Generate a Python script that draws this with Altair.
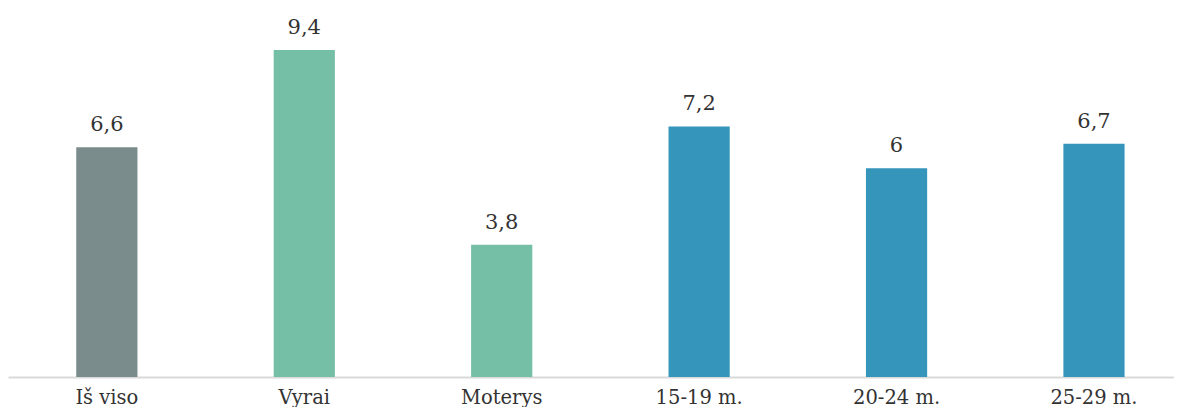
import altair as alt
import pandas as pd

categories = ["Iš viso", "Vyrai", "Moterys", "15-19 m.", "20-24 m.", "25-29 m."]
values = [6.6, 9.4, 3.8, 7.2, 6.0, 6.7]
groups = ["total", "sex", "sex", "age", "age", "age"]

df = pd.DataFrame({"cat": categories, "value": values, "group": groups})

FONT = "DejaVu Serif"

x = alt.X("cat:N", sort=categories, title=None,
          scale=alt.Scale(paddingInner=0.69, paddingOuter=0.298, align=0.58),
          axis=alt.Axis(labelAngle=0, labelFont=FONT, labelFontSize=19.5, labelColor="#333333",
                        labelPadding=11, ticks=False, domainColor="#d9d9d9", domainWidth=2,
                        grid=False))
y = alt.Y("value:Q", scale=alt.Scale(domain=[0, 10], nice=False), axis=None)

bars = alt.Chart(df).mark_bar().encode(
    x=x, y=y,
    color=alt.Color("group:N", scale=alt.Scale(domain=["total", "sex", "age"],
                                               range=["#7a8c8c", "#75bfa6", "#3595bb"]), legend=None),
)

labels = alt.Chart(df).transform_calculate(
    lbl="replace(format(datum.value, '.2~g'), '.', ',')"
).mark_text(font=FONT, fontSize=21, color="#333333", dy=-12, baseline="bottom").encode(
    x=alt.X("cat:N", sort=categories), y="value:Q", text="lbl:N"
)

chart = (bars + labels).properties(
    width=1166, height=348,
    background="white",
    autosize=alt.AutoSizeParams(type="none"),
    padding={"top": 21, "left": 0, "right": 0, "bottom": 30},
).configure_view(stroke=None)

chart.save("out.html", embed_options={"renderer": "svg", "actions": False})
